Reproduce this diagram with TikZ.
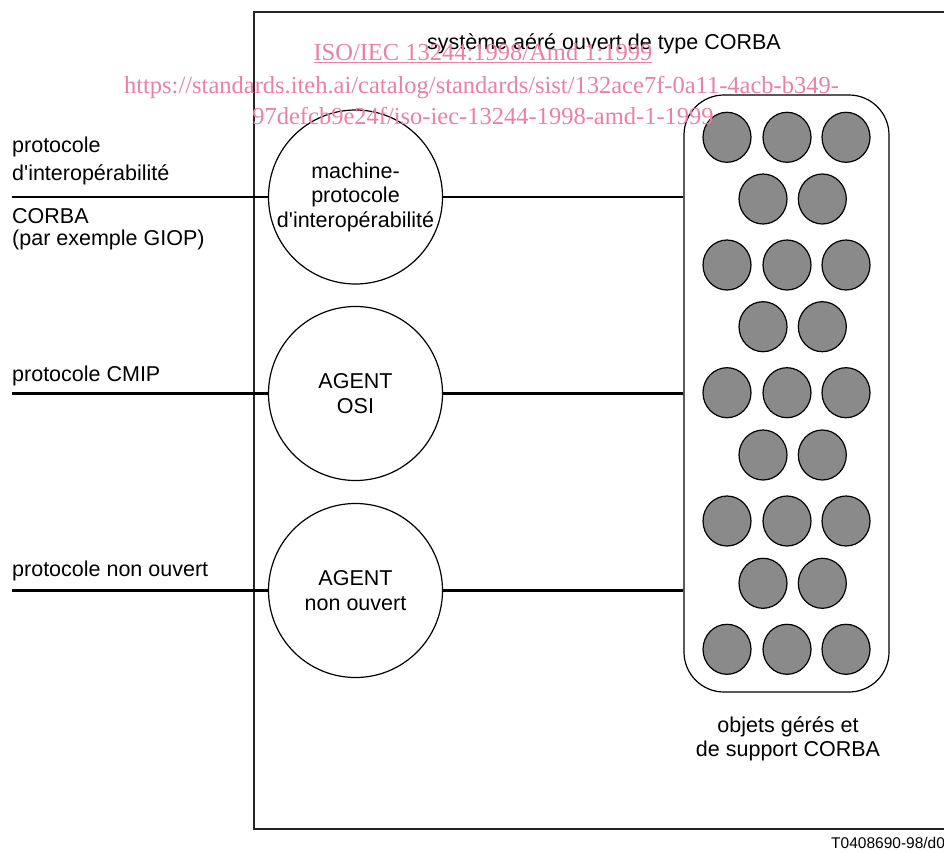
\documentclass[tikz,border=0pt]{standalone}
\usepackage{fontspec}
\setmainfont{Liberation Sans}
\newfontfamily\lblfont{Liberation Sans}
\newfontfamily\wmfont{Liberation Serif}
\usetikzlibrary{shapes.geometric}
\definecolor{wmpink}{RGB}{234,128,163}
\definecolor{objgray}{RGB}{138,138,138}
\begin{document}
\begin{tikzpicture}[x=1pt,y=-1pt,
  lbl/.style={font=\lblfont\fontsize{21.5}{24.5}\selectfont, inner sep=0pt},
  agent/.style={circle, draw, line width=1.2pt, minimum size=174pt, inner sep=0pt,
    align=center, font=\lblfont\fontsize{21.5}{24.5}\selectfont},
  objbox/.style={draw, line width=1.2pt, rounded corners=40pt, minimum width=205pt,
    minimum height=597pt, inner sep=0pt},
  obj/.style={ellipse, draw, line width=1.2pt, fill=objgray, minimum width=48pt,
    minimum height=50pt, inner sep=0pt},
  wire/.style={line width=2.2pt},
  frame/.style={line width=1.3pt, draw=black!85},
  wm/.style={font=\wmfont\fontsize{24.5}{24.5}\selectfont, text=wmpink, inner sep=0pt, anchor=base}
]
\useasboundingbox (0,0) rectangle (944,851);

% outer frame (right edge outside the page)
\coordinate (fTR) at (960,12);
\coordinate (fTL) at (254,12);
\coordinate (fBL) at (254,829);
\coordinate (fBR) at (960,829);
\draw[frame] (fTR) -- (fTL) -- (fBL) -- (fBR);

\node[lbl, anchor=base] (title) at (604,49.3) {système aéré ouvert de type CORBA};

% agents
\node[agent] (giop) at (355.5,197) {machine-\\protocole\\d'interopérabilité};
\node[agent] (osi) at (355.5,393.5) {AGENT\\OSI};
\node[agent] (prop) at (355.5,590.5) {AGENT\\non ouvert};

% managed objects box
\node[objbox] (objs) at (786.5,393.5) {};
\foreach \r/\y in {1/137.3,3/265,5/392.7,7/521,9/649.3}
  \foreach \c/\x in {1/727,2/787,3/846}
    \node[obj] (o\r\c) at (\x,\y) {};
\foreach \r/\y in {2/199,4/326.7,6/455,8/583.3}
  \foreach \c/\x in {1/763,2/822.3}
    \node[obj] (o\r\c) at (\x,\y) {};

\node[lbl, align=center] (objlbl) at (788,739) {objets gérés et\\de support CORBA};

% left labels
\node[lbl, anchor=base west] (l1a) at (12,152) {protocole};
\node[lbl, anchor=base west] (l1b) at (12,180) {d'interopérabilité};
\node[lbl, anchor=base west] (l1c) at (12,223.3) {CORBA};
\node[lbl, anchor=base west] (l1d) at (12,245) {(par exemple GIOP)};
\node[lbl, anchor=base west] (l2) at (12,381.7) {protocole CMIP};
\node[lbl, anchor=base west] (l3) at (12,576.7) {protocole non ouvert};

% wires
\coordinate (inG) at (12,197);
\coordinate (inO) at (12,393.5);
\coordinate (inP) at (12,590.5);
\draw[wire] (inG) -- (giop.west);
\draw[wire] (inO) -- (osi.west);
\draw[wire] (inP) -- (prop.west);
\draw[wire] (giop.east) -- (giop.east -| objs.west);
\draw[wire] (osi.east) -- (osi.east -| objs.west);
\draw[wire] (prop.east) -- (prop.east -| objs.west);

\node[font=\lblfont\fontsize{15.5}{15.5}\selectfont, anchor=base west, inner sep=0pt] (code) at (831,848) {T0408690-98/d0};

% watermark
\node[wm] (wmiso) at (483,60.7) {\underline{ISO/IEC 13244:1998/Amd 1:1999}};
\node[wm] (wmurl) at (481.5,93.3) {https://standards.iteh.ai/catalog/standards/sist/132ace7f-0a11-4acb-b349-};
\node[wm] (wmid) at (483,124) {97defcb9e24f/iso-iec-13244-1998-amd-1-1999};
\end{tikzpicture}
\end{document}
